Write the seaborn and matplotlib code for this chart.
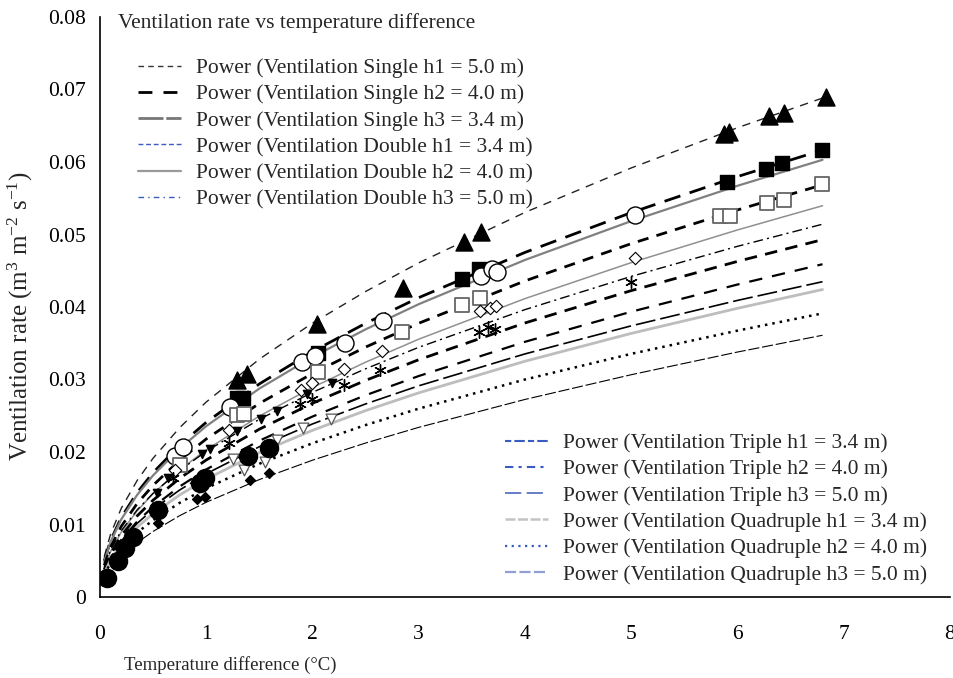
import numpy as np
import pandas as pd
import matplotlib
matplotlib.use("Agg")
import matplotlib.pyplot as plt
from matplotlib.lines import Line2D
import seaborn as sns

# ---------------- data ----------------
# sample positions along the fitted "Power" trend lines
curve_x = [0.04, 0.1, 0.2, 0.35, 0.5, 0.75, 1.0, 1.5, 2.0, 2.5, 3.0, 4.0, 5.0, 6.0, 6.8]

single_h1 = [0.00556, 0.00870, 0.01223, 0.01608, 0.01915, 0.02336, 0.0269, 0.03281, 0.03778, 0.04214, 0.04609, 0.05305, 0.05918, 0.06473, 0.06882]
single_h2 = [0.00498, 0.00780, 0.01096, 0.01441, 0.01716, 0.02093, 0.0241, 0.02939, 0.03385, 0.03775, 0.04129, 0.04753, 0.05302, 0.05799, 0.06165]
single_h3 = [0.00487, 0.00763, 0.01071, 0.01409, 0.01678, 0.02047, 0.02357, 0.02875, 0.0331, 0.03692, 0.04039, 0.04649, 0.05185, 0.05672, 0.0603]
double_h1 = [0.00436, 0.00689, 0.00974, 0.0129, 0.01541, 0.01888, 0.0218, 0.0267, 0.03083, 0.03447, 0.03776, 0.0436, 0.04874, 0.05339, 0.05685]
double_h2 = [0.00393, 0.00627, 0.00894, 0.01188, 0.01426, 0.01753, 0.0203, 0.02496, 0.0289, 0.03239, 0.03556, 0.04116, 0.04612, 0.05063, 0.05397]
double_h3 = [0.00415, 0.0065, 0.00914, 0.01202, 0.01431, 0.01745, 0.0201, 0.02451, 0.02823, 0.03148, 0.03444, 0.03964, 0.04422, 0.04837, 0.05142]
triple_h1 = [0.00378, 0.00597, 0.00845, 0.01119, 0.01336, 0.01637, 0.0189, 0.02315, 0.02672, 0.02988, 0.03273, 0.0378, 0.04226, 0.04629, 0.04929]
triple_h2 = [0.00352, 0.00556, 0.00787, 0.01042, 0.01244, 0.01524, 0.0176, 0.02156, 0.02489, 0.02783, 0.03048, 0.0352, 0.03935, 0.0431, 0.0459]
triple_h3 = [0.00351, 0.0055, 0.00773, 0.01016, 0.0121, 0.01476, 0.017, 0.02073, 0.02387, 0.02663, 0.02913, 0.03353, 0.0374, 0.04091, 0.04349]
quad_h1 = [0.00325, 0.00514, 0.00727, 0.00963, 0.0115, 0.01408, 0.01626, 0.01992, 0.02299, 0.02571, 0.02816, 0.03252, 0.03636, 0.03982, 0.04241]
quad_h2 = [0.0030, 0.00474, 0.00671, 0.00888, 0.01061, 0.01299, 0.0150, 0.01838, 0.02121, 0.02372, 0.02598, 0.0300, 0.03354, 0.03674, 0.03912]
quad_h3 = [0.00237, 0.00386, 0.00557, 0.00749, 0.00905, 0.01122, 0.01307, 0.0162, 0.01887, 0.02124, 0.0234, 0.02725, 0.03066, 0.03379, 0.0361]

curve_labels = [
    "Power (Ventilation Single h1 = 5.0 m)",
    "Power (Ventilation Single h2 = 4.0 m)",
    "Power (Ventilation Single h3 = 3.4 m)",
    "Power (Ventilation Double h1 = 3.4 m)",
    "Power (Ventilation Double h2 = 4.0 m)",
    "Power (Ventilation Double h3 = 5.0 m)",
    "Power (Ventilation Triple h1 = 3.4 m)",
    "Power (Ventilation Triple h2 = 4.0 m)",
    "Power (Ventilation Triple h3 = 5.0 m)",
    "Power (Ventilation Quadruple h1 = 3.4 m)",
    "Power (Ventilation Quadruple h2 = 4.0 m)",
    "Power (Ventilation Quadruple h3 = 5.0 m)",
]

# measured points (markers)
tri_x = [1.29, 1.38, 2.04, 2.85, 3.43, 3.59, 5.87, 5.92, 6.30, 6.44, 6.83]
tri_y = [0.0299, 0.0308, 0.0377, 0.0426, 0.0489, 0.0503, 0.0639, 0.0641, 0.0664, 0.0668, 0.0690]
sqf_x = [1.29, 1.35, 2.05, 3.41, 3.57, 5.90, 6.27, 6.42, 6.80]
sqf_y = [0.0274, 0.0274, 0.0337, 0.0439, 0.0453, 0.0573, 0.0591, 0.0598, 0.0617]
cio_x = [0.71, 0.78, 1.22, 1.90, 2.02, 2.31, 2.66, 3.59, 3.69, 3.74, 5.04]
cio_y = [0.0194, 0.0207, 0.0262, 0.0324, 0.0332, 0.0351, 0.0381, 0.0443, 0.0452, 0.0448, 0.0527]
sqo_x = [0.75, 1.29, 1.36, 2.05, 2.84, 3.41, 3.58, 5.84, 5.93, 6.28, 6.44, 6.80]
sqo_y = [0.0182, 0.0251, 0.0253, 0.0310, 0.0366, 0.0403, 0.0413, 0.0525, 0.0526, 0.0544, 0.0548, 0.0569]
dio_x = [0.71, 1.21, 1.89, 2.00, 2.30, 2.65, 3.58, 3.67, 3.73, 5.04]
dio_y = [0.0175, 0.0231, 0.0286, 0.0295, 0.0315, 0.0339, 0.0394, 0.0398, 0.0402, 0.0468]
ast_x = [0.69, 1.21, 1.88, 2.00, 2.30, 2.64, 3.57, 3.65, 3.72, 5.00]
ast_y = [0.0164, 0.0212, 0.0266, 0.0273, 0.0292, 0.0313, 0.0365, 0.0372, 0.0370, 0.0434]
tdf_x = [0.54, 0.64, 0.96, 1.04, 1.29, 1.52, 1.67, 1.95, 2.18]
tdf_y = [0.0143, 0.0164, 0.0197, 0.0204, 0.0229, 0.0246, 0.0257, 0.0280, 0.0295]
tdo_x = [1.25, 1.36, 1.55, 1.67, 1.91, 2.17]
tdo_y = [0.0191, 0.0175, 0.0186, 0.0216, 0.0233, 0.0245]
cif_x = [0.07, 0.17, 0.235, 0.31, 0.55, 0.94, 0.99, 1.39, 1.59]
cif_y = [0.0026, 0.0050, 0.0067, 0.0083, 0.0120, 0.0157, 0.0164, 0.0194, 0.0205]
dif_x = [0.55, 0.91, 0.99, 1.41, 1.59]
dif_y = [0.0102, 0.0135, 0.0138, 0.0162, 0.0171]

x_ticks = [0, 1, 2, 3, 4, 5, 6, 7, 8]
y_ticks = [0, 0.01, 0.02, 0.03, 0.04, 0.05, 0.06, 0.07, 0.08]
y_tick_labels = ["0", "0.01", "0.02", "0.03", "0.04", "0.05", "0.06", "0.07", "0.08"]

title_text = "Ventilation rate vs temperature difference"
x_label = "Temperature difference (\u00b0C)"
y_label = r"Ventilation rate (m$^{3}$ m$^{-2}$ s$^{-1}$)"

# ---------------- styling ----------------
sns.set_style("white")
plt.rcParams["font.family"] = ["Liberation Serif", "DejaVu Serif"]
plt.rcParams["mathtext.fontset"] = "custom"
plt.rcParams["mathtext.rm"] = "Liberation Serif"
plt.rcParams["mathtext.it"] = "Liberation Serif:italic"
plt.rcParams["mathtext.bf"] = "Liberation Serif:bold"

FS = 15.5

W, H = 954, 678
fig = plt.figure(figsize=(W / 100, H / 100), dpi=100)
ax = fig.add_axes([100 / W, 1 - 597 / H, 850 / W, 580 / H])

all_curves = [single_h1, single_h2, single_h3, double_h1, double_h2, double_h3,
              triple_h1, triple_h2, triple_h3, quad_h1, quad_h2, quad_h3]

# styles of the trend lines as drawn in the plot
plot_styles = [
    dict(color="#222222", lw=1.0, ls=(0, (6, 5))),
    dict(color="black", lw=2.0, ls=(0, (6, 3.5))),
    dict(color="#808080", lw=1.6, ls="-"),
    dict(color="black", lw=2.0, ls=(0, (4, 3))),
    dict(color="#909090", lw=1.1, ls="-"),
    dict(color="black", lw=1.0, ls=(0, (7, 3, 1.5, 3))),
    dict(color="black", lw=2.0, ls=(0, (4.5, 3))),
    dict(color="black", lw=1.6, ls=(0, (6, 4.5))),
    dict(color="black", lw=1.2, ls=(0, (12, 3))),
    dict(color="#bdbdbd", lw=2.0, ls="-"),
    dict(color="black", lw=1.8, ls=(0, (1, 2))),
    dict(color="black", lw=0.8, ls=(0, (10, 2.5))),
]

for yvals, st in zip(all_curves, plot_styles):
    df = pd.DataFrame({"x": curve_x, "y": yvals})
    sns.lineplot(data=df, x="x", y="y", ax=ax, color=st["color"], linewidth=st["lw"],
                 linestyle=st["ls"], estimator=None, sort=False, legend=False, zorder=2)

def scat(xs, ys, marker, s, fc, ec, lw=1.0):
    df = pd.DataFrame({"x": xs, "y": ys})
    sns.scatterplot(data=df, x="x", y="y", ax=ax, marker=marker, s=s, color=fc,
                    edgecolor=ec, linewidth=lw, legend=False, zorder=3)

scat(tri_x, tri_y, "^", 150, "black", "black")
scat(sqf_x, sqf_y, "s", 110, "black", "black")
scat(cio_x, cio_y, "o", 150, "white", "black")
scat(sqo_x, sqo_y, "s", 110, "white", "#666666", 1.3)
scat(dio_x, dio_y, "D", 40, "white", "black", 0.8)
scat(ast_x, ast_y, (6, 2, 0), 70, "black", "black", 1.0)
scat(tdf_x, tdf_y, "v", 35, "black", "black")
scat(tdo_x, tdo_y, "v", 60, "white", "#555555", 0.9)
scat(cif_x, cif_y, "o", 170, "black", "black")
scat(dif_x, dif_y, "D", 25, "black", "black")

# axes
ax.set_xlim(0, 8)
ax.set_ylim(0, 0.08)
ax.set_xticks(x_ticks)
ax.set_yticks(y_ticks)
ax.set_yticklabels(y_tick_labels)
ax.set_xlabel("")
ax.set_ylabel("")
for side in ["top", "right"]:
    ax.spines[side].set_visible(False)
for side in ["left", "bottom"]:
    ax.spines[side].set_color("black")
    ax.spines[side].set_linewidth(1.2)
ax.tick_params(axis="y", direction="out", length=8, width=1.2, pad=2, labelsize=FS, colors="black")
ax.tick_params(axis="x", direction="out", length=9, width=1.2, pad=11, labelsize=FS, colors="black")
ax.grid(False)

# legend handles (as shown in the legend boxes)
leg_styles = [
    dict(color="#333333", lw=1.0, ls=(0, (4, 3))),
    dict(color="black", lw=2.0, ls=(0, (5, 4))),
    dict(color="#777777", lw=2.0, ls=(0, (9, 1))),
    dict(color="#3a5bbf", lw=1.0, ls=(0, (3.5, 2))),
    dict(color="#999999", lw=1.6, ls="-"),
    dict(color="#3a5bbf", lw=1.0, ls=(0, (4, 3, 1, 3))),
    dict(color="#3a5bbf", lw=1.5, ls=(0, (3, 1.5, 5, 1.5))),
    dict(color="#3a5bbf", lw=1.5, ls=(0, (4, 2.5, 1.5, 2.5))),
    dict(color="#5a74c4", lw=1.3, ls=(0, (9, 3))),
    dict(color="#c4c4c4", lw=1.8, ls=(0, (4, 1))),
    dict(color="#3a5bbf", lw=1.6, ls=(0, (1, 2))),
    dict(color="#8f9fd6", lw=1.6, ls=(0, (5, 1.5))),
]
handles = [Line2D([0], [0], color=s["color"], lw=s["lw"], linestyle=s["ls"]) for s in leg_styles]

leg_kw = dict(loc="upper left", bbox_transform=fig.transFigure, frameon=False, fontsize=FS,
              handlelength=2.0, handletextpad=0.7, labelspacing=0.29, borderpad=0,
              borderaxespad=0)
leg1 = ax.legend(handles[:6], curve_labels[:6], bbox_to_anchor=(138 / W, 1 - 58 / H), **leg_kw)
ax.add_artist(leg1)
leg2 = ax.legend(handles[6:], curve_labels[6:], bbox_to_anchor=(505 / W, 1 - 433 / H), **leg_kw)

fig.text(118 / W, 1 - 23 / H, title_text, fontsize=FS, va="center", ha="left")
fig.text(124 / W, 1 - 665 / H, x_label, fontsize=13.5, va="center", ha="left")
fig.text(20 / W, 1 - 316 / H, y_label, fontsize=18, va="center", ha="center", rotation=90)

fig.savefig("out.png", dpi=100)
